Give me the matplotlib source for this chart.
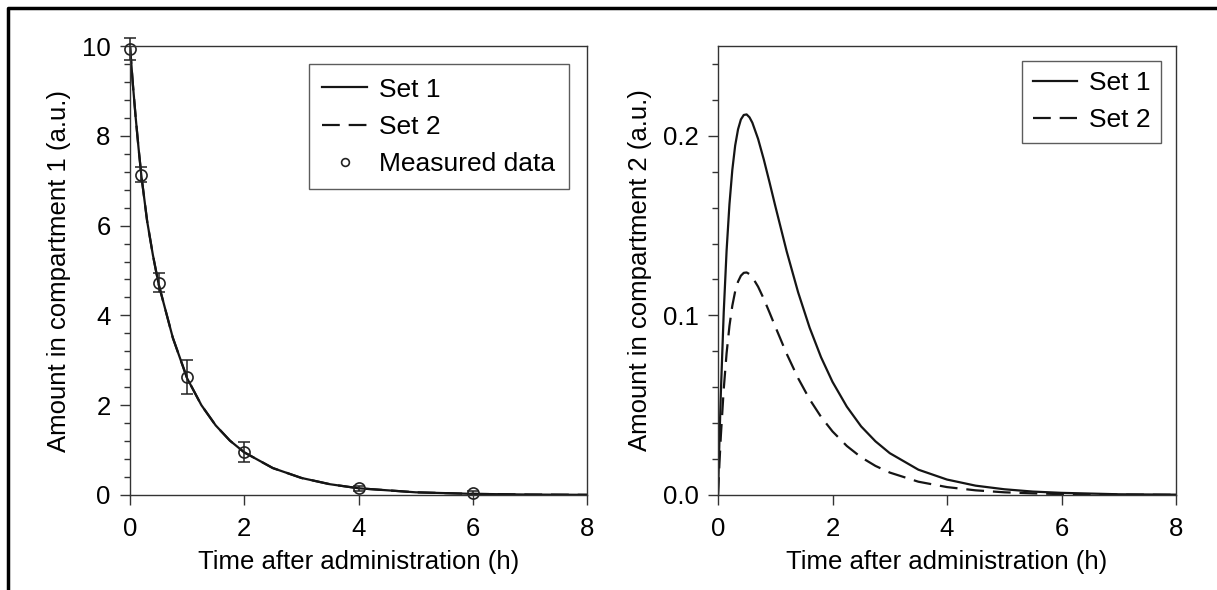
import matplotlib
matplotlib.use('Agg')
import matplotlib.pyplot as plt
from matplotlib.ticker import MultipleLocator, FormatStrFormatter

plt.rcParams['font.family'] = ['Liberation Sans', 'DejaVu Sans']

# measured data, compartment 1
t_meas = [0, 0.2, 0.5, 1, 2, 4, 6]
y_meas = [9.93, 7.13, 4.73, 2.63, 0.96, 0.15, 0.04]
y_err = [0.25, 0.17, 0.21, 0.37, 0.22, 0.05, 0.04]

# model curves, compartment 1 (Set 1 and Set 2 lie on top of each other)
t_c1 = [0, 0.05, 0.1, 0.15, 0.2, 0.3, 0.4, 0.5, 0.75, 1, 1.25, 1.5, 1.75, 2, 2.5, 3, 3.5, 4, 5, 6, 7, 8]
c1_set1 = [10, 9.15, 8.4, 7.72, 7.1, 6.1, 5.35, 4.7, 3.5, 2.6, 2.0, 1.55, 1.21, 0.95, 0.6, 0.38, 0.24, 0.15,
           0.06, 0.025, 0.01, 0.004]
c1_set2 = [10, 9.15, 8.4, 7.72, 7.1, 6.1, 5.35, 4.7, 3.5, 2.6, 2.0, 1.55, 1.21, 0.95, 0.6, 0.38, 0.24, 0.15,
           0.06, 0.025, 0.01, 0.004]

# model curves, compartment 2
t_c2 = [0, 0.025, 0.05, 0.1, 0.15, 0.2, 0.25, 0.3, 0.35, 0.4, 0.45, 0.5, 0.55, 0.6, 0.7, 0.8, 0.9, 1.0,
        1.2, 1.4, 1.6, 1.8, 2.0, 2.25, 2.5, 2.75, 3.0, 3.5, 4.0, 4.5, 5.0, 5.5, 6.0, 7.0, 8.0]
c2_set1 = [0, 0.0303, 0.0571, 0.1017, 0.1360, 0.1619, 0.1810, 0.1946, 0.2036, 0.2091, 0.2116, 0.2119,
           0.2103, 0.2073, 0.1983, 0.1868, 0.1741, 0.1610, 0.1356, 0.1128, 0.0932, 0.0767, 0.0630, 0.0492,
           0.0382, 0.0299, 0.0233, 0.0141, 0.0086, 0.0052, 0.0032, 0.0019, 0.0012, 0.0004, 0.0002]
c2_set2 = [0, 0.0175, 0.0330, 0.0589, 0.0789, 0.0941, 0.1054, 0.1134, 0.1188, 0.1221, 0.1237, 0.1239,
           0.1230, 0.1213, 0.1160, 0.1092, 0.1016, 0.0938, 0.0786, 0.0650, 0.0533, 0.0435, 0.0354, 0.0273,
           0.0210, 0.0162, 0.0125, 0.0074, 0.0044, 0.0026, 0.0015, 0.0009, 0.0005, 0.0002, 0.0001]

xticks = [0, 2, 4, 6, 8]

fs = 18.5
fs_leg = 19
spine_col = '#333333'
line_col = '#151515'

fig = plt.figure(figsize=(12.17, 5.90), dpi=100)
ax1 = fig.add_axes([130 / 1217, 95 / 590, 457 / 1217, 449 / 590])
ax2 = fig.add_axes([718 / 1217, 95 / 590, 458 / 1217, 449 / 590])

dash = (0, (8, 4))

ax1.plot(t_c1, c1_set1, color=line_col, lw=1.6, label='Set 1')
ax1.plot(t_c1, c1_set2, color=line_col, lw=1.6, linestyle=dash, label='Set 2')
ax1.errorbar(t_meas, y_meas, yerr=y_err, fmt='none', ecolor='#222222',
             elinewidth=1.1, capsize=4, capthick=1.1, clip_on=False)
ax1.plot(t_meas, y_meas, 'o', mfc='none', mec='#222222', ms=8, mew=1.2, label='Measured data', clip_on=False)

ax2.plot(t_c2, c2_set1, color=line_col, lw=1.6, label='Set 1')
ax2.plot(t_c2, c2_set2, color=line_col, lw=1.6, linestyle=dash, label='Set 2')

ax1.set_ylim(0, 10)
ax1.yaxis.set_major_locator(MultipleLocator(2))
ax1.yaxis.set_minor_locator(MultipleLocator(0.4))
ax2.set_ylim(0, 0.25)
ax2.yaxis.set_major_locator(MultipleLocator(0.1))
ax2.yaxis.set_minor_locator(MultipleLocator(0.02))
ax2.yaxis.set_major_formatter(FormatStrFormatter('%.1f'))

for ax, lab in [(ax1, 'Amount in compartment 1 (a.u.)'), (ax2, 'Amount in compartment 2 (a.u.)')]:
    ax.set_xlim(0, 8)
    ax.set_xticks(xticks)
    for s in ax.spines.values():
        s.set_color(spine_col)
        s.set_linewidth(1.0)
    ax.tick_params(which='major', direction='out', length=7, width=1.0, color=spine_col,
                   labelsize=fs, pad=7, top=False, right=False)
    ax.tick_params(axis='x', which='major', pad=9)
    ax.tick_params(which='minor', direction='out', length=4, width=1.0, color=spine_col,
                   top=False, right=False)
    ax.tick_params(axis='x', which='minor', bottom=False)
    ax.set_xlabel('Time after administration (h)', fontsize=fs, labelpad=6)
    ax.set_ylabel(lab, fontsize=fs, labelpad=8)

leg1 = ax1.legend(loc='upper right', fontsize=fs_leg, frameon=True, fancybox=False, edgecolor='#333333',
                  handlelength=1.7, handletextpad=0.45, borderpad=0.5, labelspacing=0.5,
                  markerscale=0.7, borderaxespad=0.7)
leg1.get_frame().set_linewidth(1.0)
leg2 = ax2.legend(loc='upper right', fontsize=fs_leg, frameon=True, fancybox=False, edgecolor='#333333',
                  handlelength=1.7, handletextpad=0.45, borderpad=0.4, labelspacing=0.5,
                  borderaxespad=0.55)
leg2.get_frame().set_linewidth(1.0)

# black frame along top and left edge of the picture
fig.add_artist(plt.Line2D([8 / 1217, 8 / 1217, 1], [0, 1 - 8 / 590, 1 - 8 / 590],
                          transform=fig.transFigure, color='black', lw=2.5))

fig.savefig('out.png', dpi=100)
